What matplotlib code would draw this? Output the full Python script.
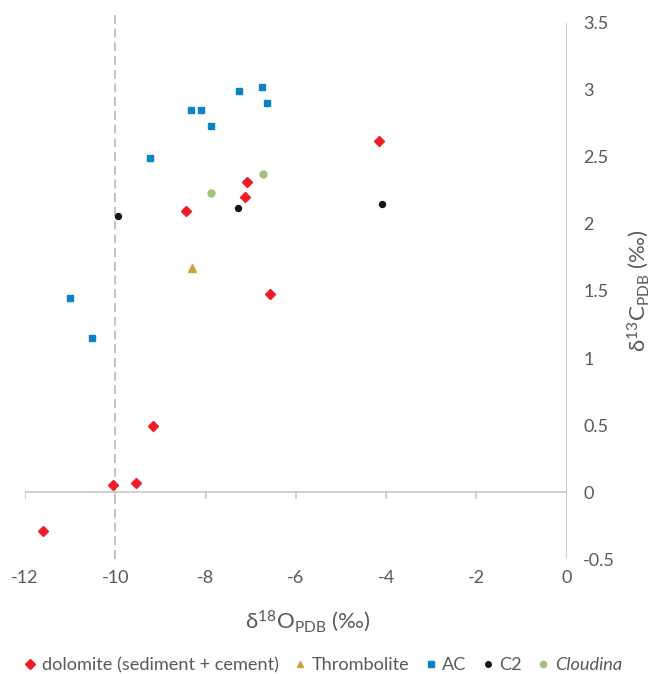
import matplotlib
matplotlib.use("Agg")
import matplotlib.pyplot as plt
from matplotlib.lines import Line2D

plt.rcParams["font.family"] = ["Lato", "DejaVu Sans"]

# delta-18O (x) and delta-13C (y), per-mil vs PDB
dolomite_x = [-4.15, -7.09, -7.13, -8.43, -6.57, -9.17, -9.53, -10.05, -11.60]
dolomite_y = [2.62, 2.31, 2.20, 2.10, 1.48, 0.49, 0.067, 0.052, -0.29]

thrombolite_x = [-8.31]
thrombolite_y = [1.67]

ac_x = [-11.0, -10.52, -9.24, -8.33, -8.09, -7.88, -7.25, -6.74, -6.63]
ac_y = [1.45, 1.15, 2.49, 2.85, 2.85, 2.73, 2.99, 3.02, 2.90]

c2_x = [-9.94, -7.28, -4.09]
c2_y = [2.06, 2.12, 2.15]

cloudina_x = [-7.88, -6.73]
cloudina_y = [2.23, 2.37]

x_ticks = [-12, -10, -8, -6, -4, -2, 0]
y_ticks = [-0.5, 0, 0.5, 1, 1.5, 2, 2.5, 3, 3.5]

RED = "#EE1C25"
GOLD = "#C9A23E"
BLUE = "#0A84C6"
BLACK = "#151515"
GREEN = "#A2C07F"
GREY_TXT = "#595959"
GREY_LINE = "#C8C8C8"

fig = plt.figure(figsize=(6.54, 6.74), dpi=100)
ax = fig.add_axes([0.0382, 0.1706, 0.8283, 0.7953])
ax.set_xlim(-12, 0)
ax.set_ylim(-0.5, 3.5)

# Reference line at -10 per-mil
ax.plot([-10, -10], [-0.5, 3.56], ls=(0, (5, 2.6)), color="#BDBDBD", lw=1.3,
        clip_on=False, zorder=1)

# Axis lines crossing at the origin
for side in ("top", "left", "bottom", "right"):
    ax.spines[side].set_visible(False)
ax.axhline(0, color=GREY_LINE, lw=1.2, zorder=0)
ax.axvline(0, color=GREY_LINE, lw=1.2, zorder=0)
for xt in x_ticks:
    ax.plot([xt, xt], [0, -0.045], color=GREY_LINE, lw=1.2, zorder=0)

ax.set_xticks(x_ticks)
ax.set_xticklabels([str(t) for t in x_ticks])
ax.set_yticks(y_ticks)
ax.set_yticklabels([f"{t:g}" for t in y_ticks])
ax.tick_params(axis="x", length=0, pad=8, labelsize=13, labelcolor=GREY_TXT)
ax.tick_params(axis="y", length=0, pad=12, labelsize=13, labelcolor=GREY_TXT,
               left=False, labelleft=False, right=False, labelright=True)

ax.plot(dolomite_x, dolomite_y, ls="none", marker="D", ms=5.2, color=RED, zorder=3)
ax.plot(thrombolite_x, thrombolite_y, ls="none", marker="^", ms=5.5, color=GOLD, zorder=3)
ax.plot(ac_x, ac_y, ls="none", marker="s", ms=4.4, color=BLUE, zorder=3)
ax.plot(c2_x, c2_y, ls="none", marker="o", ms=4.3, color=BLACK, zorder=3)
ax.plot(cloudina_x, cloudina_y, ls="none", marker="o", ms=5.0, color=GREEN, zorder=3)

ax.set_xlabel(r"$\mathregular{\delta^{18}O_{PDB}}$ (‰)", fontsize=16, color=GREY_TXT)
ax.xaxis.set_label_coords(0.522, -0.092)
ax.yaxis.set_label_position("right")
ax.set_ylabel(r"$\mathregular{\delta^{13}C_{PDB}}$ (‰)", fontsize=16, color=GREY_TXT,
              labelpad=7)

handles = [
    Line2D([], [], ls="none", marker="D", ms=5, color=RED),
    Line2D([], [], ls="none", marker="^", ms=5, color=GOLD),
    Line2D([], [], ls="none", marker="s", ms=4.3, color=BLUE),
    Line2D([], [], ls="none", marker="o", ms=4, color=BLACK),
    Line2D([], [], ls="none", marker="o", ms=4.5, color=GREEN),
]
labels = ["dolomite (sediment + cement)", "Thrombolite", "AC", "C2", "Cloudina"]
leg = fig.legend(handles, labels, loc="center left", bbox_to_anchor=(0.024, 0.013),
                 ncol=5, frameon=False, fontsize=13.1, handlelength=0.6,
                 handletextpad=0.35, columnspacing=0.85, borderpad=0)
for t in leg.get_texts():
    t.set_color(GREY_TXT)
leg.get_texts()[-1].set_style("italic")

fig.savefig("out.png", dpi=100)
